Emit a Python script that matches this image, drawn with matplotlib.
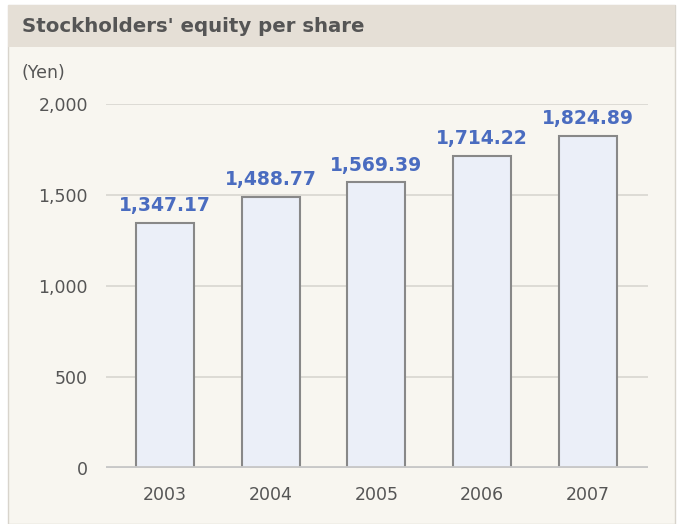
import matplotlib
matplotlib.use("Agg")
from matplotlib import pyplot as plt
from matplotlib.patches import Rectangle

years = ["2003", "2004", "2005", "2006", "2007"]
equity = [1347.17, 1488.77, 1569.39, 1714.22, 1824.89]
yticks = [0, 500, 1000, 1500, 2000]
ytickLabels = ["0", "500", "1,000", "1,500", "2,000"]

fig = plt.figure(figsize=(6.77, 5.24), dpi=100)
fig.patch.set_facecolor("white")

# panel background and title bar
fig.patches.append(Rectangle((8 / 677, 0), 667 / 677, 1 - 5 / 524, transform=fig.transFigure,
                             facecolor="#f8f6f0", edgecolor="#d8d4cc", linewidth=1, zorder=-2))
fig.patches.append(Rectangle((8 / 677, 1 - 47 / 524), 667 / 677, 42 / 524, transform=fig.transFigure,
                             facecolor="#e5dfd6", edgecolor="none", zorder=-1))
fig.text(22 / 677, 1 - 27 / 524, "Stockholders' equity per share", fontsize=14.2, fontweight="bold",
         color="#555555", va="center", ha="left")
fig.text(22 / 677, 1 - 73 / 524, "(Yen)", fontsize=12.5, color="#555555", va="center", ha="left")

ax = fig.add_axes([106 / 677, 1 - 468 / 524, (648 - 106) / 677, (468 - 104) / 524])
ax.set_facecolor("none")

x = list(range(len(years)))
ax.bar(x, equity, width=0.55, color="#ebeff8", edgecolor="#888888", linewidth=1.5, zorder=3)
for xi, v in zip(x, equity):
    ax.annotate("{:,.2f}".format(v), (xi, v), xytext=(0, 5.5), textcoords="offset points",
                ha="center", va="bottom", fontsize=13.5, fontweight="bold", color="#4a6cc0", zorder=4)

ax.set_xlim(-0.558, 4.57)
ax.set_ylim(0, 2000)
ax.set_yticks(yticks)
ax.set_yticklabels(ytickLabels)
ax.set_xticks(x)
ax.set_xticklabels(years)
for y in yticks[1:]:
    ax.axhline(y, color="#d8d6d0", linewidth=1.2, zorder=1)
ax.axhline(0, color="#c8c8c8", linewidth=3.5, zorder=5)

for s in ax.spines.values():
    s.set_visible(False)
ax.tick_params(axis="both", length=0, labelsize=12.5, labelcolor="#555555")
ax.tick_params(axis="y", pad=13)
ax.tick_params(axis="x", pad=13)

fig.savefig("out.png", dpi=100)
